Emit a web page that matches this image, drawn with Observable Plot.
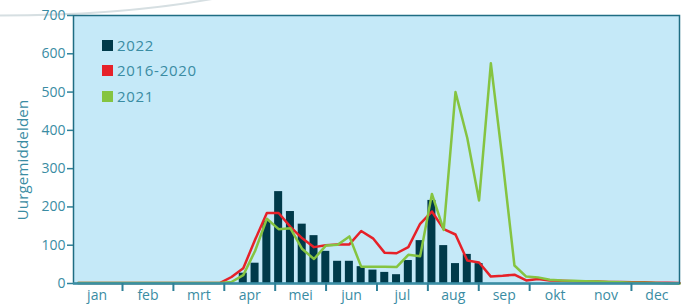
<!DOCTYPE html>
<html><head><meta charset="utf-8">
<script src="https://cdn.jsdelivr.net/npm/d3@7"></script>
<script src="https://cdn.jsdelivr.net/npm/@observablehq/plot@0.6"></script>
<style>
body{margin:0;background:#fff;font-family:"Open Sans",sans-serif;}
#wrap{position:relative;width:686px;height:307px;overflow:hidden;}
#deco{position:absolute;left:0;top:0;}
#chart{position:absolute;left:0;top:0;}
#ylabel{position:absolute;left:22px;top:160px;transform:translate(-50%,-50%) rotate(-90deg);font-size:15px;color:#3a8ca3;white-space:nowrap;letter-spacing:0.2px;}
#legend{position:absolute;left:102px;top:33px;font-size:15px;color:#3a8ca3;letter-spacing:0.7px;}
#legend .row{height:25.3px;line-height:25.3px;display:flex;align-items:center;}
#legend .sw{width:11px;height:11px;margin-right:4px;display:inline-block;}
</style></head><body>
<div id="wrap">
<svg id="deco" width="686" height="307"><path d="M0,15.5 C60,15.5 140,12 212,-1" fill="none" stroke="#d6dfe2" stroke-width="2"/></svg>
<div id="chart"></div>
<div id="ylabel">Uurgemiddelden</div>
<div id="legend"></div>
</div>
<script>
// Data
const barWeeks = [15,16,17,18,19,20,21,22,23,24,25,26,27,28,29,30,31,32,33,34,35];
const values2022 = [27,53,162,240,188,155,125,84,58,58,44,35,29,23,60,112,217,99,52,76,52];

const lineWeeks = [1,2,3,4,5,6,7,8,9,10,11,12,13,14,15,16,17,18,19,20,21,22,23,24,25,26,
  27,28,29,30,31,32,33,34,35,36,37,38,39,40,41,42,43,44,45,46,47,48,49,50,51,52];
const values2016_2020 = [1,1,1,1,1,1,1,1,1,1,1,1,1,17,40,114,184,184,148,118,95,100,102,102,137,118,
  80,79,95,156,188,142,128,60,55,18,20,23,8,12,8,7,6,5,5,4,4,3,3,2,2,1];
const values2021 = [1,1,1,1,1,1,1,1,1,1,1,1,1,4,22,85,169,142,144,90,64,99,101,123,44,44,
  44,43,75,71,234,140,500,380,217,575,320,47,18,16,10,8,7,6,5,4,3,2,2,1,0,0];

const monthLabels = ["jan","feb","mrt","apr","mei","jun","jul","aug","sep","okt","nov","dec"];
const yTicks = [0,100,200,300,400,500,600,700];
const seriesNames = ["2022","2016-2020","2021"];
const seriesColors = ["#003a4a","#e62129","#85c441"];

// Layout helpers (week units)
const yearStart = 0.44, monthLen = 51.8/12;
const monthBounds = monthLabels.slice(1).map((m,i)=>yearStart + (i+1)*monthLen).filter((d,i)=>i!==9);
const monthCenters = monthLabels.map((m,i)=>yearStart + (i+0.5)*monthLen);
const centerLabel = new Map(monthCenters.map((c,i)=>[c, monthLabels[i]]));

const bars = barWeeks.map((w,i)=>({week:w, value:values2022[i]}));
const lines = lineWeeks.map((w,i)=>({week:w, avg:values2016_2020[i], y2021:values2021[i]}));

const teal = "#3a8ca3";
const chart = Plot.plot({
  width: 686, height: 307,
  marginLeft: 73, marginRight: 7, marginTop: 15, marginBottom: 24,
  style: {background: "transparent", fontFamily: "Open Sans", fontSize: "14px", color: teal, overflow: "visible"},
  x: {domain: [0.6, 52], axis: null},
  y: {domain: [0, 700], axis: null},
  marks: [
    Plot.frame({fill: "#c5e9f8"}),
    Plot.rectY(bars, {x1: d => d.week - 0.34, x2: d => d.week + 0.34, y: "value", fill: seriesColors[0]}),
    Plot.lineY(lines, {x: "week", y: "avg", stroke: seriesColors[1], strokeWidth: 2.5}),
    Plot.lineY(lines, {x: "week", y: "y2021", stroke: seriesColors[2], strokeWidth: 2.5}),
    Plot.frame({stroke: "#1f6d83", strokeWidth: 1.5}),
    Plot.ruleY([0], {stroke: "#3b8ea5", strokeWidth: 2.5}),
    Plot.axisY({ticks: yTicks, tickSize: 6, tickPadding: 2, stroke: "#2f8098", strokeWidth: 1.5, label: null, fontSize: 14, fill: teal, style: {letterSpacing: "0.8px"}}),
    Plot.axisX({ticks: monthBounds, tickSize: 8, tickFormat: () => "", stroke: "#2f8098", strokeWidth: 2, label: null}),
    Plot.axisX({ticks: monthCenters, tickSize: 0, tickPadding: 7, tickFormat: d => centerLabel.get(d), fontSize: 14, fill: teal, label: null})
  ]
});
document.getElementById("chart").appendChild(chart);

const legend = document.getElementById("legend");
seriesNames.forEach((n,i)=>{
  const row = document.createElement("div"); row.className = "row";
  const sw = document.createElement("span"); sw.className = "sw"; sw.style.background = seriesColors[i];
  row.appendChild(sw); row.appendChild(document.createTextNode(n));
  legend.appendChild(row);
});
</script>
</body></html>
